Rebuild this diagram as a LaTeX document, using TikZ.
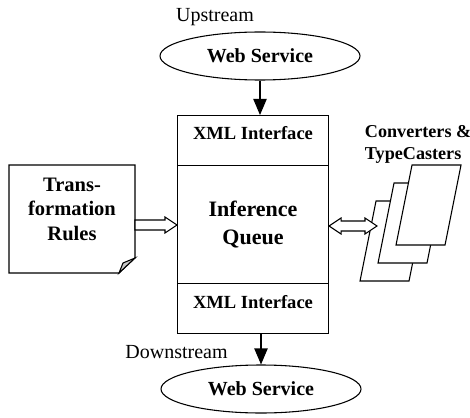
\documentclass[tikz,border=0pt]{standalone}
\usepackage{fontspec}
\setmainfont{Liberation Serif}
\usetikzlibrary{arrows.meta,calc,shapes.geometric}
\begin{document}
\begin{tikzpicture}[x=0.75pt,y=-0.75pt,line width=0.8pt,
  plain/.style={font=\fontsize{15}{18}\selectfont},
  bold/.style={font=\fontsize{#1}{#1}\selectfont\bfseries},
  svc/.style={draw,ellipse,minimum width=150pt,minimum height=36pt,inner sep=0pt,font=\fontsize{15}{18}\selectfont\bfseries},
  part/.style={draw,fill=white,minimum width=113.25pt,inner sep=0pt,anchor=north west},
  page/.style={draw,fill=white,line join=miter},
  hol/.style={draw,fill=white,line join=miter},
  arr/.style={-{Triangle[length=12pt,width=10pt]}}]
\useasboundingbox (0,0) rectangle (470,417);

% services
\node[plain] (up) at (215,17) {Upstream};
\node[svc] (ws1) at (260,56) {Web Service};
\node[plain] (down) at (176.5,352) {Downstream};
\node[svc] (ws2) at (261,389) {Web Service};

% central box
\node[part,minimum height=37.5pt] (xml1) at (177,115) {};
\node[part,minimum height=88.5pt,font=\fontsize{16.5}{20.3}\selectfont\bfseries,align=center] (queue) at (177,165) {Inference\\Queue};
\node[part,minimum height=37.5pt] (xml2) at (177,283) {};
\node[bold=13.9] (xml1t) at (253,133) {XML Interface};
\node[bold=13.9] (xml2t) at (253,302) {XML Interface};

% vertical arrows
\draw[arr] (ws1.south) -- (ws1.south |- xml1.north);
\draw[arr] (ws2.north |- xml2.south) -- (ws2.north);

% transformation rules document
\draw[page] (9,165) -- (135,165) -- (135,258) -- (119,273) -- (9,273) -- cycle;
\fill[gray!45] (135,258) -- (119,273) -- (123,263) -- cycle;
\draw[line join=miter] (135,258) -- (119,273) -- (123,263) -- cycle;
\node[font=\fontsize{15.4}{18.4}\selectfont\bfseries,align=center] (rules) at (72,209) {Trans-\\formation\\Rules};
\coordinate (docE) at (135,225);

% converters pages
\draw[page] (360,281) -- (409,281) -- (425,201) -- (376,201) -- cycle;
\draw[page] (378,263) -- (427,263) -- (443,183) -- (394,183) -- cycle;
\draw[page] (396,245) -- (445,245) -- (461,165) -- (412,165) -- cycle;
\coordinate (pageW) at (377,226);
\node[font=\fontsize{13.6}{16.5}\selectfont\bfseries,align=left,anchor=west] (conv) at (360,144) {Converters \&\\TypeCasters};

% hollow arrow: rules -> queue
\coordinate (qW) at (docE -| queue.west);
\draw[hol] ($(docE)+(0,-5)$) -- ($(qW)+(-12,-5)$) -- ($(qW)+(-12,-8)$) -- (qW)
  -- ($(qW)+(-12,8)$) -- ($(qW)+(-12,5)$) -- ($(docE)+(0,5)$) -- cycle;

% hollow double arrow: queue <-> converters
\coordinate (qE) at (pageW -| queue.east);
\draw[hol] (qE) -- ($(qE)+(12,-8)$) -- ($(qE)+(12,-5)$) -- ($(pageW)+(-12,-5)$)
  -- ($(pageW)+(-12,-8)$) -- (pageW) -- ($(pageW)+(-12,8)$) -- ($(pageW)+(-12,5)$)
  -- ($(qE)+(12,5)$) -- ($(qE)+(12,8)$) -- cycle;
\end{tikzpicture}
\end{document}
